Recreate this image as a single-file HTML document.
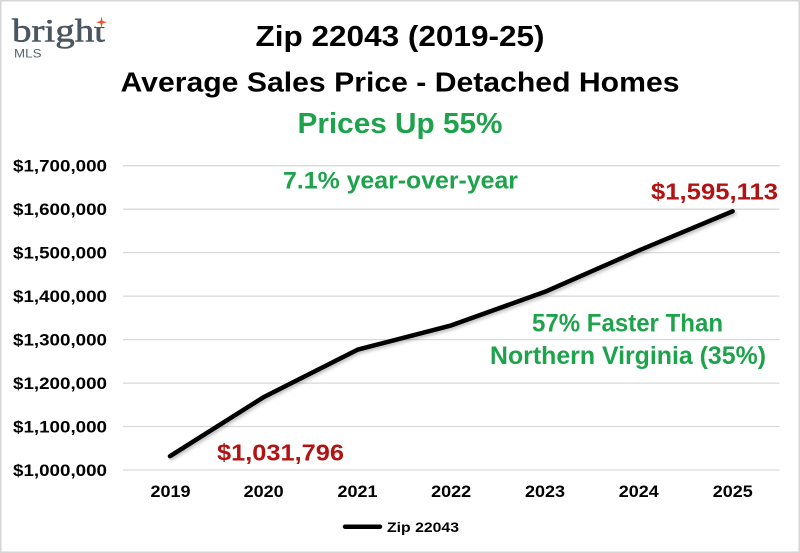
<!DOCTYPE html>
<html><head><meta charset="utf-8"><style>
html,body{margin:0;padding:0;background:#fff;}
svg{display:block;}
</style></head><body>
<svg width="800" height="553" viewBox="0 0 800 553" xmlns="http://www.w3.org/2000/svg">
<defs>
<filter id="sh" x="-10%" y="-10%" width="120%" height="130%">
<feDropShadow dx="1.5" dy="2" stdDeviation="1.5" flood-color="#000" flood-opacity="0.25"/>
</filter>
</defs>
<rect x="0" y="0" width="800" height="553" fill="#fff"/>
<rect x="0.75" y="0.75" width="798.5" height="551.5" fill="none" stroke="#d6d6d6" stroke-width="1.5"/>

<!-- logo -->
<text x="12" y="41.5" font-family="Liberation Serif, serif" font-size="33" fill="#4b5661" stroke="#4b5661" stroke-width="0.6" textLength="93" lengthAdjust="spacingAndGlyphs">bright</text>
<rect x="96" y="13" width="12" height="14" fill="#fff"/>
<path d="M101.5 16.5 L102.6 21 L107 22.2 L102.6 23.4 L101.5 28 L100.4 23.4 L96 22.2 L100.4 21 Z" fill="#e8532b"/>
<text x="14" y="57.3" font-family="Liberation Sans, sans-serif" font-size="11.5" fill="#5a6570" textLength="27.5" lengthAdjust="spacingAndGlyphs">MLS</text>

<!-- titles -->
<g font-family="Liberation Sans, sans-serif" font-weight="bold" text-anchor="middle">
<text x="400" y="46" font-size="29" fill="#000" textLength="289" lengthAdjust="spacingAndGlyphs">Zip 22043 (2019-25)</text>
<text x="400" y="91.5" font-size="28" fill="#000" textLength="559" lengthAdjust="spacingAndGlyphs">Average Sales Price - Detached Homes</text>
<text x="400" y="133" font-size="29" fill="#1ea34c" textLength="205" lengthAdjust="spacingAndGlyphs">Prices Up 55%</text>
</g>

<!-- gridlines -->
<g stroke="#d9d9d9" stroke-width="1.3">
<line x1="123" x2="779.5" y1="470" y2="470"/>
<line x1="123" x2="779.5" y1="426.5" y2="426.5"/>
<line x1="123" x2="779.5" y1="383.1" y2="383.1"/>
<line x1="123" x2="779.5" y1="339.6" y2="339.6"/>
<line x1="123" x2="779.5" y1="296.1" y2="296.1"/>
<line x1="123" x2="779.5" y1="252.6" y2="252.6"/>
<line x1="123" x2="779.5" y1="209.2" y2="209.2"/>
<line x1="123" x2="779.5" y1="165.7" y2="165.7"/>
</g>

<!-- y labels -->
<g font-family="Liberation Sans, sans-serif" font-weight="bold" font-size="17" fill="#000">
<text x="13" y="476" textLength="94" lengthAdjust="spacingAndGlyphs">$1,000,000</text>
<text x="13" y="432.5" textLength="94" lengthAdjust="spacingAndGlyphs">$1,100,000</text>
<text x="13" y="389.1" textLength="94" lengthAdjust="spacingAndGlyphs">$1,200,000</text>
<text x="13" y="345.6" textLength="94" lengthAdjust="spacingAndGlyphs">$1,300,000</text>
<text x="13" y="302.1" textLength="94" lengthAdjust="spacingAndGlyphs">$1,400,000</text>
<text x="13" y="258.6" textLength="94" lengthAdjust="spacingAndGlyphs">$1,500,000</text>
<text x="13" y="215.2" textLength="94" lengthAdjust="spacingAndGlyphs">$1,600,000</text>
<text x="13" y="171.7" textLength="94" lengthAdjust="spacingAndGlyphs">$1,700,000</text>
</g>

<!-- x labels -->
<g font-family="Liberation Sans, sans-serif" font-weight="bold" font-size="17" fill="#000">
<text x="150.5" y="497" textLength="40" lengthAdjust="spacingAndGlyphs">2019</text>
<text x="243.7" y="497" textLength="40" lengthAdjust="spacingAndGlyphs">2020</text>
<text x="337.5" y="497" textLength="40" lengthAdjust="spacingAndGlyphs">2021</text>
<text x="431.2" y="497" textLength="40" lengthAdjust="spacingAndGlyphs">2022</text>
<text x="525" y="497" textLength="40" lengthAdjust="spacingAndGlyphs">2023</text>
<text x="618.8" y="497" textLength="40" lengthAdjust="spacingAndGlyphs">2024</text>
<text x="712.8" y="497" textLength="40" lengthAdjust="spacingAndGlyphs">2025</text>
</g>

<!-- series -->
<polyline points="170,456.2 263.7,397.1 357.5,349.7 451.2,325.4 545,291.8 638.8,250.5 732.6,211.3" fill="none" stroke="#000" stroke-width="4.5" stroke-linecap="round" stroke-linejoin="round" filter="url(#sh)"/>

<!-- annotations -->
<g font-family="Liberation Sans, sans-serif" font-weight="bold">
<text x="283" y="188.3" font-size="24" fill="#1ea34c" textLength="235" lengthAdjust="spacingAndGlyphs">7.1% year-over-year</text>
<text x="651" y="199.5" font-size="23" fill="#b31212" textLength="127" lengthAdjust="spacingAndGlyphs">$1,595,113</text>
<text x="532" y="331.7" font-size="25" fill="#1ea34c" textLength="191" lengthAdjust="spacingAndGlyphs">57% Faster Than</text>
<text x="490" y="364" font-size="25" fill="#1ea34c" textLength="276" lengthAdjust="spacingAndGlyphs">Northern Virginia (35%)</text>
<text x="217" y="460.5" font-size="23" fill="#b31212" textLength="127" lengthAdjust="spacingAndGlyphs">$1,031,796</text>
</g>

<!-- legend -->
<line x1="345" y1="526.7" x2="380" y2="526.7" stroke="#000" stroke-width="4.5" stroke-linecap="round"/>
<text x="387" y="532" font-family="Liberation Sans, sans-serif" font-weight="bold" font-size="14" fill="#000" textLength="72" lengthAdjust="spacingAndGlyphs">Zip 22043</text>
</svg>
</body></html>
